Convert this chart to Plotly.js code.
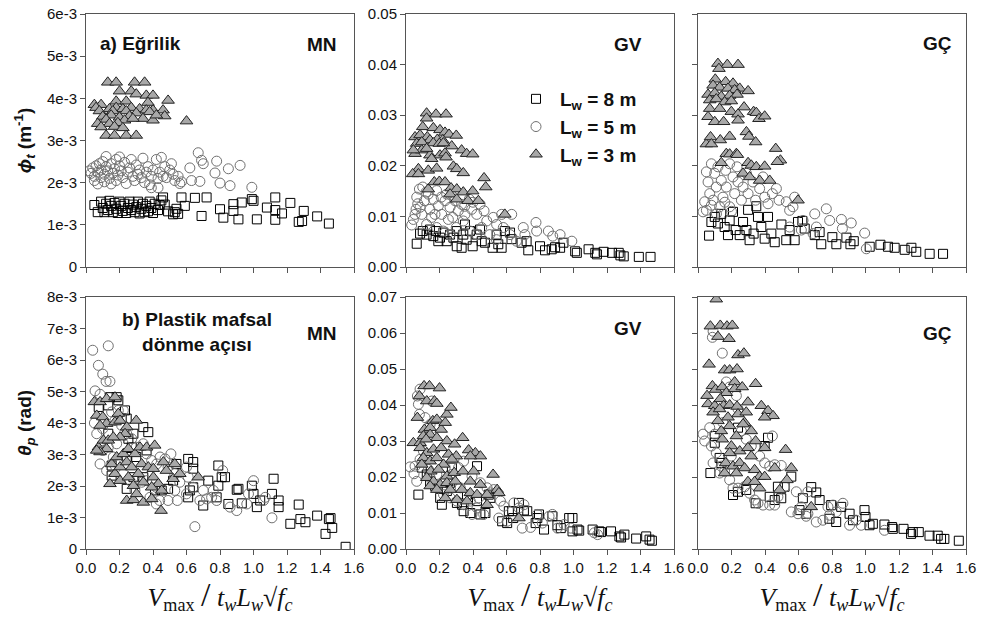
<!DOCTYPE html>
<html>
<head>
<meta charset="utf-8">
<script src="https://cdn.plot.ly/plotly-3.0.1.min.js"></script>
<style>html,body{margin:0;padding:0;background:#fff}#chart{width:981px;height:624px}</style>
</head>
<body>
<div id="chart"></div>
<script>
// ---------------- DATA (x = Vmax / (tw Lw sqrt(fc))) ----------------
// Panel a) curvature, MN (values in 1e-3 m^-1)
const curvMN_L8 = [[0.05,1.47],[0.07,1.30],[0.09,1.55],[0.10,1.40],[0.11,1.30],[0.12,1.50],[0.13,1.35],[0.14,1.57],[0.15,1.45],[0.16,1.30],[0.17,1.52],[0.18,1.38],[0.19,1.28],[0.20,1.55],[0.21,1.45],[0.22,1.33],[0.23,1.50],[0.24,1.28],[0.25,1.40],[0.26,1.55],[0.27,1.35],[0.28,1.48],[0.29,1.30],[0.30,1.42],[0.31,1.55],[0.32,1.27],[0.33,1.38],[0.34,1.50],[0.35,1.30],[0.36,1.45],[0.37,1.32],[0.38,1.55],[0.39,1.40],[0.40,1.28],[0.41,1.50],[0.43,1.35],[0.44,1.47],[0.45,1.58],[0.46,1.65],[0.47,1.48],[0.49,1.32],[0.52,1.25],[0.53,1.30],[0.54,1.38],[0.55,1.26],[0.57,1.65],[0.59,1.45],[0.65,1.64],[0.69,1.21],[0.72,1.65],[0.80,1.37],[0.82,1.17],[0.88,1.49],[0.88,1.33],[0.91,1.13],[0.93,1.53],[0.99,1.61],[1.00,1.57],[1.02,1.13],[1.08,1.41],[1.13,1.65],[1.13,1.35],[1.17,1.27],[1.13,1.12],[1.22,1.52],[1.27,1.07],[1.29,1.09],[1.30,1.33],[1.38,1.20],[1.45,1.03]];
const curvMN_L5 = [[0.02,2.28],[0.03,2.22],[0.04,2.35],[0.05,2.15],[0.05,2.05],[0.06,2.40],[0.07,2.25],[0.07,1.97],[0.08,2.45],[0.09,2.30],[0.09,2.12],[0.10,2.50],[0.11,2.20],[0.11,2.02],[0.12,2.62],[0.12,2.38],[0.13,2.28],[0.14,2.10],[0.15,2.45],[0.15,1.97],[0.16,2.22],[0.17,2.33],[0.18,2.55],[0.18,2.05],[0.19,2.18],[0.20,2.61],[0.20,2.40],[0.21,2.28],[0.22,2.12],[0.23,2.48],[0.24,1.98],[0.25,2.25],[0.26,2.35],[0.27,2.55],[0.28,2.15],[0.29,2.05],[0.30,2.42],[0.31,2.20],[0.32,2.30],[0.33,2.12],[0.34,2.58],[0.35,2.00],[0.36,2.25],[0.37,2.38],[0.38,1.95],[0.39,2.15],[0.39,1.88],[0.40,2.30],[0.42,2.55],[0.43,2.10],[0.43,1.88],[0.44,2.25],[0.45,2.60],[0.46,2.15],[0.47,2.38],[0.48,2.12],[0.50,2.30],[0.51,2.45],[0.52,2.20],[0.53,2.05],[0.55,2.15],[0.56,1.98],[0.57,2.02],[0.62,2.35],[0.63,2.05],[0.67,2.71],[0.68,2.03],[0.69,2.53],[0.70,2.45],[0.77,2.23],[0.78,2.51],[0.80,1.99],[0.85,2.33],[0.86,1.93],[0.92,2.41],[0.99,1.89]];
const curvMN_L3 = [[0.13,4.38],[0.18,4.38],[0.29,4.38],[0.35,4.38],[0.20,4.17],[0.27,4.17],[0.30,4.10],[0.36,4.07],[0.40,4.07],[0.49,3.95],[0.18,3.93],[0.24,3.93],[0.37,3.90],[0.05,3.85],[0.09,3.85],[0.06,3.78],[0.14,3.75],[0.18,3.78],[0.22,3.75],[0.27,3.78],[0.32,3.75],[0.36,3.72],[0.40,3.72],[0.08,3.70],[0.16,3.70],[0.24,3.70],[0.30,3.65],[0.38,3.68],[0.46,3.72],[0.47,3.58],[0.10,3.57],[0.15,3.60],[0.20,3.55],[0.26,3.58],[0.34,3.52],[0.40,3.48],[0.42,3.60],[0.12,3.50],[0.23,3.48],[0.28,3.52],[0.60,3.46],[0.07,3.40],[0.14,3.40],[0.19,3.42],[0.09,3.32],[0.17,3.33],[0.22,3.30],[0.12,3.12],[0.17,3.12],[0.24,3.12],[0.30,3.12]];
// Panel a) curvature, GV (m^-1)
const curvGV_L8 = [[0.064,0.0046],[0.084,0.0066],[0.10,0.0071],[0.123,0.0064],[0.143,0.0074],[0.163,0.0061],[0.179,0.0071],[0.193,0.0051],[0.203,0.0058],[0.223,0.0068],[0.243,0.0051],[0.263,0.0064],[0.283,0.0058],[0.303,0.0071],[0.303,0.0041],[0.332,0.0038],[0.342,0.0064],[0.352,0.0084],[0.362,0.0054],[0.382,0.0071],[0.398,0.0041],[0.422,0.0064],[0.442,0.0074],[0.452,0.0051],[0.472,0.0048],[0.517,0.0038],[0.541,0.0064],[0.551,0.0045],[0.571,0.0038],[0.59,0.0071],[0.621,0.0068],[0.63,0.0055],[0.69,0.0048],[0.73,0.0033],[0.72,0.0051],[0.80,0.0041],[0.83,0.0033],[0.87,0.0035],[0.89,0.0039],[0.92,0.0038],[0.94,0.0048],[1.01,0.0031],[1.02,0.0028],[1.09,0.0035],[1.13,0.0028],[1.14,0.0025],[1.18,0.0030],[1.23,0.0028],[1.27,0.0028],[1.28,0.0023],[1.30,0.0021],[1.39,0.0020],[1.46,0.0020]];
const curvGV_L5 = [[0.034,0.0083],[0.044,0.0094],[0.054,0.0104],[0.06,0.0114],[0.064,0.0138],[0.08,0.0154],[0.10,0.0158],[0.11,0.0131],[0.133,0.0144],[0.143,0.0114],[0.163,0.0134],[0.183,0.0151],[0.193,0.0121],[0.213,0.0104],[0.233,0.0131],[0.243,0.0144],[0.263,0.0118],[0.279,0.0098],[0.293,0.0131],[0.312,0.0111],[0.332,0.0124],[0.352,0.0104],[0.378,0.0134],[0.392,0.0114],[0.422,0.0104],[0.442,0.0124],[0.466,0.0111],[0.482,0.0091],[0.521,0.0098],[0.541,0.0084],[0.571,0.0104],[0.581,0.0078],[0.631,0.0104],[0.621,0.0064],[0.70,0.0078],[0.71,0.0064],[0.776,0.0088],[0.78,0.0071],[0.85,0.0071],[0.876,0.0061],[0.92,0.0064],[0.99,0.0051],[0.094,0.0104],[0.123,0.0084],[0.153,0.0098],[0.183,0.0078],[0.223,0.0071],[0.263,0.0064],[0.30,0.0078],[0.342,0.0091],[0.382,0.0071],[0.422,0.0064],[0.452,0.0078],[0.50,0.0064],[0.54,0.0054],[0.66,0.0051],[0.084,0.0118],[0.173,0.0104],[0.253,0.0094],[0.07,0.0125],[0.12,0.0148],[0.21,0.0138],[0.27,0.0142],[0.35,0.0120],[0.40,0.0128]];
const curvGV_L3 = [[0.123,0.0304],[0.179,0.0302],[0.239,0.0302],[0.123,0.0294],[0.10,0.0277],[0.163,0.0275],[0.203,0.0271],[0.233,0.0266],[0.257,0.0262],[0.30,0.026],[0.054,0.0257],[0.084,0.0261],[0.127,0.0257],[0.143,0.0251],[0.187,0.0252],[0.219,0.0251],[0.273,0.0239],[0.064,0.0244],[0.094,0.0247],[0.163,0.0245],[0.199,0.0244],[0.223,0.0245],[0.054,0.0224],[0.094,0.0231],[0.143,0.0221],[0.203,0.0221],[0.233,0.0225],[0.332,0.0231],[0.362,0.0224],[0.398,0.0223],[0.044,0.0231],[0.123,0.0234],[0.153,0.0214],[0.239,0.0217],[0.074,0.0194],[0.133,0.0191],[0.183,0.0195],[0.283,0.0199],[0.303,0.0194],[0.342,0.0186],[0.04,0.0184],[0.074,0.0184],[0.466,0.0176],[0.476,0.0158],[0.133,0.0154],[0.169,0.0168],[0.199,0.0169],[0.233,0.0168],[0.269,0.0156],[0.303,0.0154],[0.342,0.0148],[0.398,0.015],[0.263,0.0144],[0.303,0.0134],[0.37,0.0131],[0.432,0.0131],[0.59,0.0104]];
// Panel a) curvature, GÇ (m^-1)
const curvGC_L8 = [[0.066,0.0062],[0.08,0.0089],[0.10,0.0099],[0.119,0.0086],[0.139,0.0105],[0.159,0.0079],[0.179,0.0063],[0.189,0.0092],[0.209,0.0109],[0.225,0.0073],[0.249,0.0063],[0.269,0.0089],[0.299,0.0113],[0.289,0.0073],[0.308,0.0053],[0.332,0.0066],[0.348,0.012],[0.358,0.0099],[0.378,0.0079],[0.398,0.0056],[0.418,0.0099],[0.438,0.0066],[0.458,0.0049],[0.498,0.0084],[0.527,0.0053],[0.547,0.0073],[0.577,0.0053],[0.597,0.0089],[0.623,0.0091],[0.637,0.0076],[0.697,0.0063],[0.726,0.0069],[0.736,0.0045],[0.802,0.0059],[0.826,0.0045],[0.886,0.0058],[0.91,0.0045],[0.93,0.0051],[1.025,0.004],[1.089,0.0044],[1.134,0.004],[1.174,0.0038],[1.234,0.0034],[1.274,0.0038],[1.303,0.003],[1.383,0.0026],[1.463,0.0026]];
const curvGC_L5 = [[0.03,0.0109],[0.04,0.0129],[0.05,0.0188],[0.06,0.0168],[0.08,0.0204],[0.07,0.0145],[0.09,0.0132],[0.10,0.0185],[0.109,0.0158],[0.119,0.0198],[0.129,0.0119],[0.139,0.0171],[0.149,0.0138],[0.165,0.0191],[0.169,0.0158],[0.189,0.0204],[0.189,0.0119],[0.209,0.0178],[0.219,0.0145],[0.233,0.0198],[0.239,0.0168],[0.259,0.0132],[0.269,0.0158],[0.289,0.0185],[0.299,0.0145],[0.328,0.0168],[0.344,0.0132],[0.368,0.0155],[0.388,0.0178],[0.398,0.0138],[0.418,0.0125],[0.444,0.0145],[0.468,0.0155],[0.484,0.0132],[0.527,0.0129],[0.547,0.0112],[0.577,0.0138],[0.567,0.0119],[0.627,0.0092],[0.697,0.0105],[0.707,0.0079],[0.766,0.0115],[0.786,0.0092],[0.856,0.0094],[0.862,0.0076],[0.915,0.0087],[0.995,0.0067],[0.687,0.0066],[0.617,0.0073],[0.547,0.0079],[1.005,0.0036],[0.05,0.0112],[0.08,0.0122],[0.11,0.0105],[0.16,0.0128],[0.20,0.0110]];
const curvGC_L3 = [[0.119,0.0402],[0.175,0.040],[0.239,0.040],[0.125,0.0392],[0.103,0.0371],[0.165,0.0366],[0.209,0.0363],[0.249,0.0353],[0.299,0.0348],[0.090,0.0359],[0.129,0.0355],[0.179,0.0353],[0.219,0.035],[0.06,0.0341],[0.10,0.0344],[0.139,0.0337],[0.189,0.0339],[0.233,0.0341],[0.07,0.033],[0.109,0.0332],[0.159,0.0326],[0.199,0.0328],[0.07,0.0313],[0.129,0.0313],[0.199,0.0307],[0.275,0.0316],[0.332,0.0307],[0.348,0.0305],[0.06,0.0297],[0.10,0.0287],[0.153,0.0287],[0.239,0.0302],[0.239,0.029],[0.364,0.0293],[0.398,0.0298],[0.289,0.0267],[0.304,0.0258],[0.344,0.0247],[0.464,0.0234],[0.492,0.0211],[0.474,0.0208],[0.05,0.0243],[0.075,0.0257],[0.08,0.0243],[0.133,0.0251],[0.189,0.0258],[0.169,0.0224],[0.189,0.0223],[0.229,0.0224],[0.235,0.0222],[0.139,0.0206],[0.299,0.0206],[0.318,0.0201],[0.348,0.0198],[0.398,0.0199],[0.269,0.0185],[0.308,0.0178],[0.368,0.0171],[0.428,0.0171],[0.597,0.0132]];
// Panel b) plastic hinge rotation, MN (values in 1e-3 rad)
const rotMN_L8 = [[0.076,4.51],[0.133,4.56],[0.193,4.72],[0.143,4.82],[0.183,4.82],[0.233,4.40],[0.213,4.14],[0.243,4.14],[0.342,3.87],[0.372,3.71],[0.283,3.66],[0.253,3.50],[0.133,3.66],[0.362,3.13],[0.273,3.23],[0.30,2.92],[0.243,2.92],[0.153,2.33],[0.153,2.65],[0.243,1.91],[0.283,2.28],[0.342,2.28],[0.412,1.86],[0.452,1.86],[0.49,1.91],[0.52,2.17],[0.54,2.70],[0.61,2.86],[0.64,2.76],[0.64,2.55],[0.61,1.64],[0.62,1.86],[0.64,1.96],[0.70,1.38],[0.73,2.17],[0.78,1.64],[0.79,2.65],[0.79,2.01],[0.81,2.28],[0.83,2.28],[0.85,1.43],[0.90,1.88],[0.91,1.91],[0.93,1.45],[0.99,2.01],[1.00,1.75],[1.02,1.33],[1.04,1.54],[1.11,1.75],[1.12,2.23],[1.15,1.54],[1.15,1.33],[1.22,0.80],[1.27,1.41],[1.28,0.95],[1.31,0.85],[1.38,1.06],[1.45,0.95],[1.43,0.48],[1.46,0.98],[1.47,0.67],[1.55,0.07]];
const rotMN_L5 = [[0.04,6.31],[0.133,6.45],[0.074,5.83],[0.10,5.55],[0.12,5.32],[0.143,5.32],[0.054,5.02],[0.084,4.91],[0.05,4.00],[0.084,2.70],[0.064,3.66],[0.10,3.82],[0.153,4.35],[0.193,4.40],[0.223,4.40],[0.173,4.08],[0.213,3.92],[0.243,3.66],[0.273,3.50],[0.30,3.23],[0.342,3.34],[0.362,3.02],[0.392,2.81],[0.422,2.70],[0.442,2.92],[0.472,2.86],[0.49,2.60],[0.507,3.02],[0.53,2.39],[0.56,2.12],[0.60,1.75],[0.65,0.71],[0.68,1.54],[0.72,1.59],[0.76,1.86],[0.78,1.54],[0.816,2.49],[0.86,1.33],[0.90,1.22],[0.96,1.43],[0.97,1.75],[1.06,1.54],[1.11,0.99],[0.362,2.17],[0.42,1.96],[0.382,1.64],[0.44,1.54],[0.49,1.54],[0.545,1.54],[0.53,1.86],[0.332,2.12],[0.292,1.86],[0.263,2.17],[0.223,2.39],[0.193,2.70],[0.163,2.92],[0.133,3.23],[0.10,3.13],[0.123,2.49],[0.183,3.34],[0.61,2.28],[0.60,2.60],[0.64,1.96],[0.70,1.86],[0.75,1.64],[1.00,2.17],[1.07,1.64],[0.42,1.43]];
const rotMN_L3 = [[0.05,4.67],[0.084,4.67],[0.123,4.77],[0.173,4.82],[0.064,4.24],[0.10,4.19],[0.123,3.98],[0.084,3.92],[0.193,4.30],[0.173,4.03],[0.203,4.08],[0.243,3.87],[0.30,4.08],[0.233,3.66],[0.203,3.55],[0.074,3.23],[0.104,3.45],[0.133,3.45],[0.163,3.55],[0.123,3.18],[0.084,3.08],[0.064,3.13],[0.153,2.70],[0.183,2.92],[0.223,3.02],[0.253,3.18],[0.292,3.02],[0.322,3.23],[0.362,3.23],[0.41,3.29],[0.173,2.39],[0.203,2.60],[0.243,2.76],[0.273,2.60],[0.332,2.70],[0.372,2.60],[0.402,2.55],[0.462,2.76],[0.48,2.49],[0.53,2.70],[0.143,2.07],[0.203,2.17],[0.253,2.28],[0.283,2.01],[0.312,2.39],[0.342,2.12],[0.402,2.28],[0.432,2.07],[0.52,2.23],[0.56,2.39],[0.243,1.54],[0.283,1.56],[0.302,1.75],[0.342,1.48],[0.392,1.59],[0.392,1.96],[0.452,1.86],[0.448,1.22],[0.67,2.28]];
// Panel b) plastic hinge rotation, GV (rad)
const rotGV_L8 = [[0.074,0.0151],[0.094,0.0226],[0.124,0.0207],[0.144,0.0184],[0.174,0.0175],[0.204,0.0142],[0.214,0.0123],[0.244,0.0161],[0.264,0.0184],[0.274,0.0226],[0.304,0.0128],[0.334,0.0123],[0.344,0.0105],[0.364,0.0151],[0.384,0.010],[0.424,0.0133],[0.424,0.023],[0.444,0.0096],[0.474,0.010],[0.494,0.0151],[0.504,0.0142],[0.574,0.0077],[0.604,0.0072],[0.614,0.0105],[0.634,0.0105],[0.64,0.0086],[0.674,0.0128],[0.704,0.0107],[0.724,0.0105],[0.774,0.0072],[0.784,0.0086],[0.794,0.0096],[0.824,0.0054],[0.874,0.0091],[0.904,0.0066],[0.924,0.0058],[0.974,0.0086],[0.994,0.0086],[0.994,0.0049],[1.024,0.0054],[1.034,0.0051],[1.114,0.0054],[1.154,0.0049],[1.164,0.0047],[1.224,0.0049],[1.274,0.0035],[1.284,0.0032],[1.304,0.004],[1.374,0.0029],[1.434,0.0035],[1.454,0.0026],[1.468,0.0023]];
const rotGV_L5 = [[0.024,0.0228],[0.048,0.0209],[0.064,0.0188],[0.074,0.0402],[0.084,0.0444],[0.068,0.0425],[0.08,0.0374],[0.154,0.0411],[0.114,0.0365],[0.144,0.0346],[0.104,0.0272],[0.084,0.0249],[0.054,0.023],[0.134,0.0221],[0.184,0.0207],[0.234,0.0226],[0.274,0.0207],[0.314,0.0226],[0.344,0.0244],[0.394,0.0202],[0.444,0.0184],[0.484,0.017],[0.504,0.0156],[0.524,0.0165],[0.564,0.0133],[0.584,0.0119],[0.554,0.0086],[0.604,0.0077],[0.644,0.0128],[0.674,0.0114],[0.694,0.0058],[0.704,0.0123],[0.744,0.006],[0.784,0.0096],[0.814,0.0072],[0.854,0.0091],[0.874,0.0096],[0.904,0.0058],[0.944,0.0068],[0.984,0.0058],[1.124,0.0045],[1.144,0.004],[0.184,0.017],[0.224,0.0151],[0.264,0.0142],[0.304,0.0133],[0.344,0.0123],[0.394,0.0096],[0.424,0.0114],[0.464,0.0096],[0.224,0.0188],[0.324,0.017],[0.434,0.0142],[0.384,0.0133],[0.144,0.0198]];
const rotGV_L3 = [[0.08,0.0425],[0.108,0.0453],[0.14,0.0453],[0.20,0.0447],[0.124,0.0411],[0.17,0.0411],[0.184,0.0404],[0.068,0.0365],[0.16,0.0356],[0.184,0.036],[0.244,0.0374],[0.268,0.0393],[0.11,0.0332],[0.144,0.0337],[0.21,0.0332],[0.234,0.0351],[0.144,0.0318],[0.184,0.0309],[0.244,0.030],[0.29,0.0291],[0.338,0.0309],[0.044,0.0295],[0.084,0.0295],[0.104,0.0314],[0.12,0.0305],[0.084,0.0281],[0.124,0.0267],[0.164,0.0277],[0.21,0.0281],[0.254,0.0263],[0.30,0.0258],[0.374,0.0275],[0.414,0.0267],[0.444,0.0258],[0.384,0.0258],[0.104,0.0253],[0.144,0.0244],[0.184,0.0253],[0.224,0.0235],[0.274,0.0249],[0.094,0.0235],[0.148,0.0216],[0.194,0.0221],[0.244,0.0202],[0.288,0.0212],[0.34,0.0216],[0.404,0.0216],[0.52,0.0207],[0.124,0.0198],[0.164,0.0188],[0.204,0.0179],[0.244,0.0184],[0.294,0.0188],[0.384,0.0188],[0.444,0.0179],[0.144,0.0175],[0.184,0.0165],[0.264,0.0165],[0.334,0.0165],[0.384,0.0156],[0.424,0.0151],[0.484,0.0151],[0.544,0.0165],[0.554,0.0156],[0.234,0.0142],[0.304,0.0137],[0.364,0.0133],[0.484,0.0123],[0.674,0.0086]];
// Panel b) plastic hinge rotation, GÇ (rad)
const rotGC_L8 = [[0.074,0.0211],[0.10,0.0295],[0.10,0.0314],[0.129,0.0253],[0.139,0.0239],[0.209,0.015],[0.239,0.0159],[0.239,0.0337],[0.288,0.0164],[0.344,0.0127],[0.398,0.0286],[0.418,0.0309],[0.428,0.0145],[0.458,0.0136],[0.477,0.0173],[0.497,0.0141],[0.517,0.0173],[0.557,0.0201],[0.606,0.0108],[0.626,0.0141],[0.646,0.0098],[0.676,0.0172],[0.706,0.0157],[0.726,0.0136],[0.785,0.0084],[0.795,0.0122],[0.825,0.0075],[0.855,0.0117],[0.905,0.0098],[0.925,0.008],[0.994,0.0108],[1.0,0.0089],[1.024,0.0066],[1.044,0.007],[1.113,0.0068],[1.159,0.0061],[1.163,0.0056],[1.227,0.0056],[1.272,0.0042],[1.282,0.0047],[1.318,0.0047],[1.382,0.0037],[1.431,0.0037],[1.451,0.0028],[1.471,0.0028],[1.557,0.0023]];
const rotGC_L5 = [[0.03,0.0319],[0.04,0.030],[0.08,0.0286],[0.09,0.0605],[0.086,0.0588],[0.145,0.0544],[0.07,0.0337],[0.10,0.0319],[0.149,0.0351],[0.169,0.0464],[0.189,0.045],[0.229,0.0426],[0.239,0.0389],[0.259,0.0328],[0.288,0.0305],[0.318,0.0286],[0.368,0.0258],[0.398,0.0239],[0.444,0.0314],[0.428,0.023],[0.458,0.0234],[0.497,0.0232],[0.109,0.0267],[0.139,0.023],[0.159,0.0216],[0.199,0.0258],[0.209,0.0169],[0.239,0.0169],[0.278,0.0173],[0.308,0.0155],[0.338,0.0136],[0.358,0.0127],[0.388,0.0122],[0.428,0.0122],[0.458,0.0122],[0.477,0.0145],[0.517,0.0173],[0.557,0.0103],[0.587,0.0159],[0.597,0.0098],[0.646,0.0091],[0.656,0.0159],[0.706,0.0075],[0.746,0.008],[0.776,0.0117],[0.806,0.0122],[0.865,0.0127],[0.905,0.0066],[0.944,0.008],[0.974,0.0066],[1.113,0.0052],[0.617,0.0117],[0.656,0.0098],[0.785,0.0094],[0.825,0.0103],[0.09,0.0239],[0.129,0.0211],[0.189,0.0192]];
const rotGC_L3 = [[0.109,0.0694],[0.074,0.0619],[0.133,0.0621],[0.173,0.0619],[0.205,0.0621],[0.119,0.059],[0.185,0.0584],[0.239,0.0539],[0.274,0.0544],[0.066,0.0513],[0.159,0.0497],[0.189,0.0497],[0.233,0.050],[0.344,0.0459],[0.054,0.0426],[0.086,0.0453],[0.105,0.0443],[0.145,0.045],[0.169,0.0434],[0.219,0.0464],[0.219,0.0445],[0.264,0.045],[0.06,0.0403],[0.10,0.0398],[0.133,0.0417],[0.153,0.0398],[0.189,0.040],[0.233,0.0396],[0.298,0.0408],[0.378,0.0398],[0.418,0.0384],[0.448,0.037],[0.398,0.0366],[0.09,0.038],[0.129,0.0389],[0.179,0.0366],[0.239,0.0375],[0.288,0.038],[0.278,0.0351],[0.119,0.0356],[0.139,0.0328],[0.189,0.0342],[0.229,0.0314],[0.269,0.0347],[0.318,0.0328],[0.344,0.030],[0.398,0.0281],[0.523,0.0276],[0.145,0.0305],[0.199,0.0286],[0.249,0.0272],[0.298,0.0281],[0.189,0.0267],[0.165,0.0239],[0.209,0.023],[0.249,0.0239],[0.278,0.0225],[0.318,0.0258],[0.338,0.022],[0.368,0.0201],[0.458,0.0225],[0.557,0.0225],[0.398,0.0201],[0.298,0.0187],[0.368,0.0169],[0.338,0.0187],[0.487,0.0164],[0.531,0.0192],[0.676,0.0117],[0.159,0.0211],[0.229,0.0211]];

const MILLI = 1e-3; // MN values above are stored in units of 1e-3
const xTicks = [0,0.2,0.4,0.6,0.8,1.0,1.2,1.4,1.6];
const mnCurvTicks = [0,1,2,3,4,5,6];
const mnCurvLabels = ["0","1e-3","2e-3","3e-3","4e-3","5e-3","6e-3"];
const mnRotTicks = [0,1,2,3,4,5,6,7,8];
const mnRotLabels = ["0","1e-3","2e-3","3e-3","4e-3","5e-3","6e-3","7e-3","8e-3"];
const seriesNames = ["L<sub>w</sub> = 8 m","L<sub>w</sub> = 5 m","L<sub>w</sub> = 3 m"];

// ---------------- STYLE / LAYOUT ----------------
const W = 981, H = 624;
const px = v => v / W, py = v => 1 - v / H;
const FONT = "Liberation Sans, Arial, sans-serif";
const markerStyles = [
  {symbol:"square-open", size:9, color:"#000", line:{width:1, color:"#000"}},
  {symbol:"circle-open", size:10, color:"#707070", line:{width:1, color:"#707070"}},
  {symbol:"triangle-up", size:11, color:"#a8a8a8", line:{width:1, color:"#222"}}
];
const panels = [
  {sets:[curvMN_L8,curvMN_L5,curvMN_L3], scale:MILLI},
  {sets:[curvGV_L8,curvGV_L5,curvGV_L3], scale:1},
  {sets:[curvGC_L8,curvGC_L5,curvGC_L3], scale:1},
  {sets:[rotMN_L8,rotMN_L5,rotMN_L3], scale:MILLI},
  {sets:[rotGV_L8,rotGV_L5,rotGV_L3], scale:1},
  {sets:[rotGC_L8,rotGC_L5,rotGC_L3], scale:1}
];
const traces = [];
panels.forEach((p, i) => {
  const sfx = i === 0 ? "" : String(i + 1);
  p.sets.forEach((pts, k) => {
    traces.push({
      type:"scatter", mode:"markers",
      x: pts.map(d => d[0]), y: pts.map(d => d[1] * p.scale),
      xaxis:"x" + sfx, yaxis:"y" + sfx,
      marker: markerStyles[k],
      name: "<b>" + seriesNames[k] + "</b>",
      legendgroup: "g" + k,
      showlegend: i === 1,
      hoverinfo: "skip"
    });
  });
});

const xDom = [[86,354],[406,674],[698,966]];
const yDom = [[14,267],[297,549]];
const xTitle = "<i>V</i><sub>max</sub> <span style='font-size:34px'>/</span> <i>t<sub>w</sub>L<sub>w</sub></i>√<i>f<sub>c</sub></i>";
const baseAxis = {
  showline:true, mirror:true, linecolor:"#555", linewidth:1,
  ticks:"outside", ticklen:5, tickcolor:"#555", tickwidth:1,
  showgrid:false, zeroline:false, automargin:false,
  tickfont:{family:FONT, size:15, color:"#111"}
};
const layout = {
  width:W, height:H, margin:{l:0,r:0,t:0,b:0},
  paper_bgcolor:"#fff", plot_bgcolor:"#fff",
  font:{family:FONT, color:"#111"},
  showlegend:true,
  legend:{x:px(512), y:py(80), xanchor:"left", yanchor:"top", bgcolor:"rgba(0,0,0,0)",
          font:{family:FONT, size:19, color:"#111"}, tracegroupgap:0, itemwidth:38},
  annotations:[], shapes:[]
};
for (let i = 0; i < 6; i++) {
  const sfx = i === 0 ? "" : String(i + 1);
  const col = i % 3, row = Math.floor(i / 3);
  const xa = Object.assign({}, baseAxis, {
    domain:[px(xDom[col][0]), px(xDom[col][1])], anchor:"y" + sfx,
    range:[0,1.6], tickvals:xTicks, tickformat:".1f",
    showticklabels: row === 1
  });
  if (row === 1) xa.title = {text:xTitle, font:{family:"Liberation Serif, Times New Roman, serif", size:26, color:"#111"}, standoff:8};
  const ya = Object.assign({}, baseAxis, {
    domain:[py(yDom[row][1]), py(yDom[row][0])], anchor:"x" + sfx
  });
  if (col === 0 && row === 0) { ya.range=[0,6e-3]; ya.tickvals=mnCurvTicks.map(v=>v*MILLI); ya.ticktext=mnCurvLabels;
    ya.title={text:"<b><i>ϕ<sub>t</sub></i> (m<sup>-1</sup>)</b>", font:{family:FONT,size:19,color:"#111"}, standoff:10}; }
  if (col === 0 && row === 1) { ya.range=[0,8e-3]; ya.tickvals=mnRotTicks.map(v=>v*MILLI); ya.ticktext=mnRotLabels;
    ya.title={text:"<b><i>θ<sub>p</sub></i> (rad)</b>", font:{family:FONT,size:19,color:"#111"}, standoff:10}; }
  if (col > 0) { ya.range = row === 0 ? [0,0.05] : [0,0.07]; ya.dtick = 0.01; ya.tick0 = 0; ya.tickformat = ".2f"; ya.showticklabels = col === 1; }
  layout["xaxis" + sfx] = xa;
  layout["yaxis" + sfx] = ya;
}
const ann = (x, y, text, xanchor) => ({xref:"paper", yref:"paper", x:px(x), y:py(y), text:"<b>"+text+"</b>",
  showarrow:false, xanchor:xanchor||"left", yanchor:"middle", font:{family:FONT, size:19, color:"#111"}});
layout.annotations.push(
  ann(98, 44, "a) Eğrilik"),
  ann(339, 45, "MN", "right"),
  ann(644, 45, "GV", "right"),
  ann(954, 44, "GÇ", "right"),
  Object.assign(ann(197, 332, "b) Plastik mafsal<br>dönme açısı", "center"), {align:"center"}),
  ann(339, 333, "MN", "right"),
  ann(644, 328, "GV", "right"),
  ann(954, 333, "GÇ", "right")
);
Plotly.newPlot("chart", traces, layout, {displayModeBar:false, staticPlot:true});
</script>
</body>
</html>
